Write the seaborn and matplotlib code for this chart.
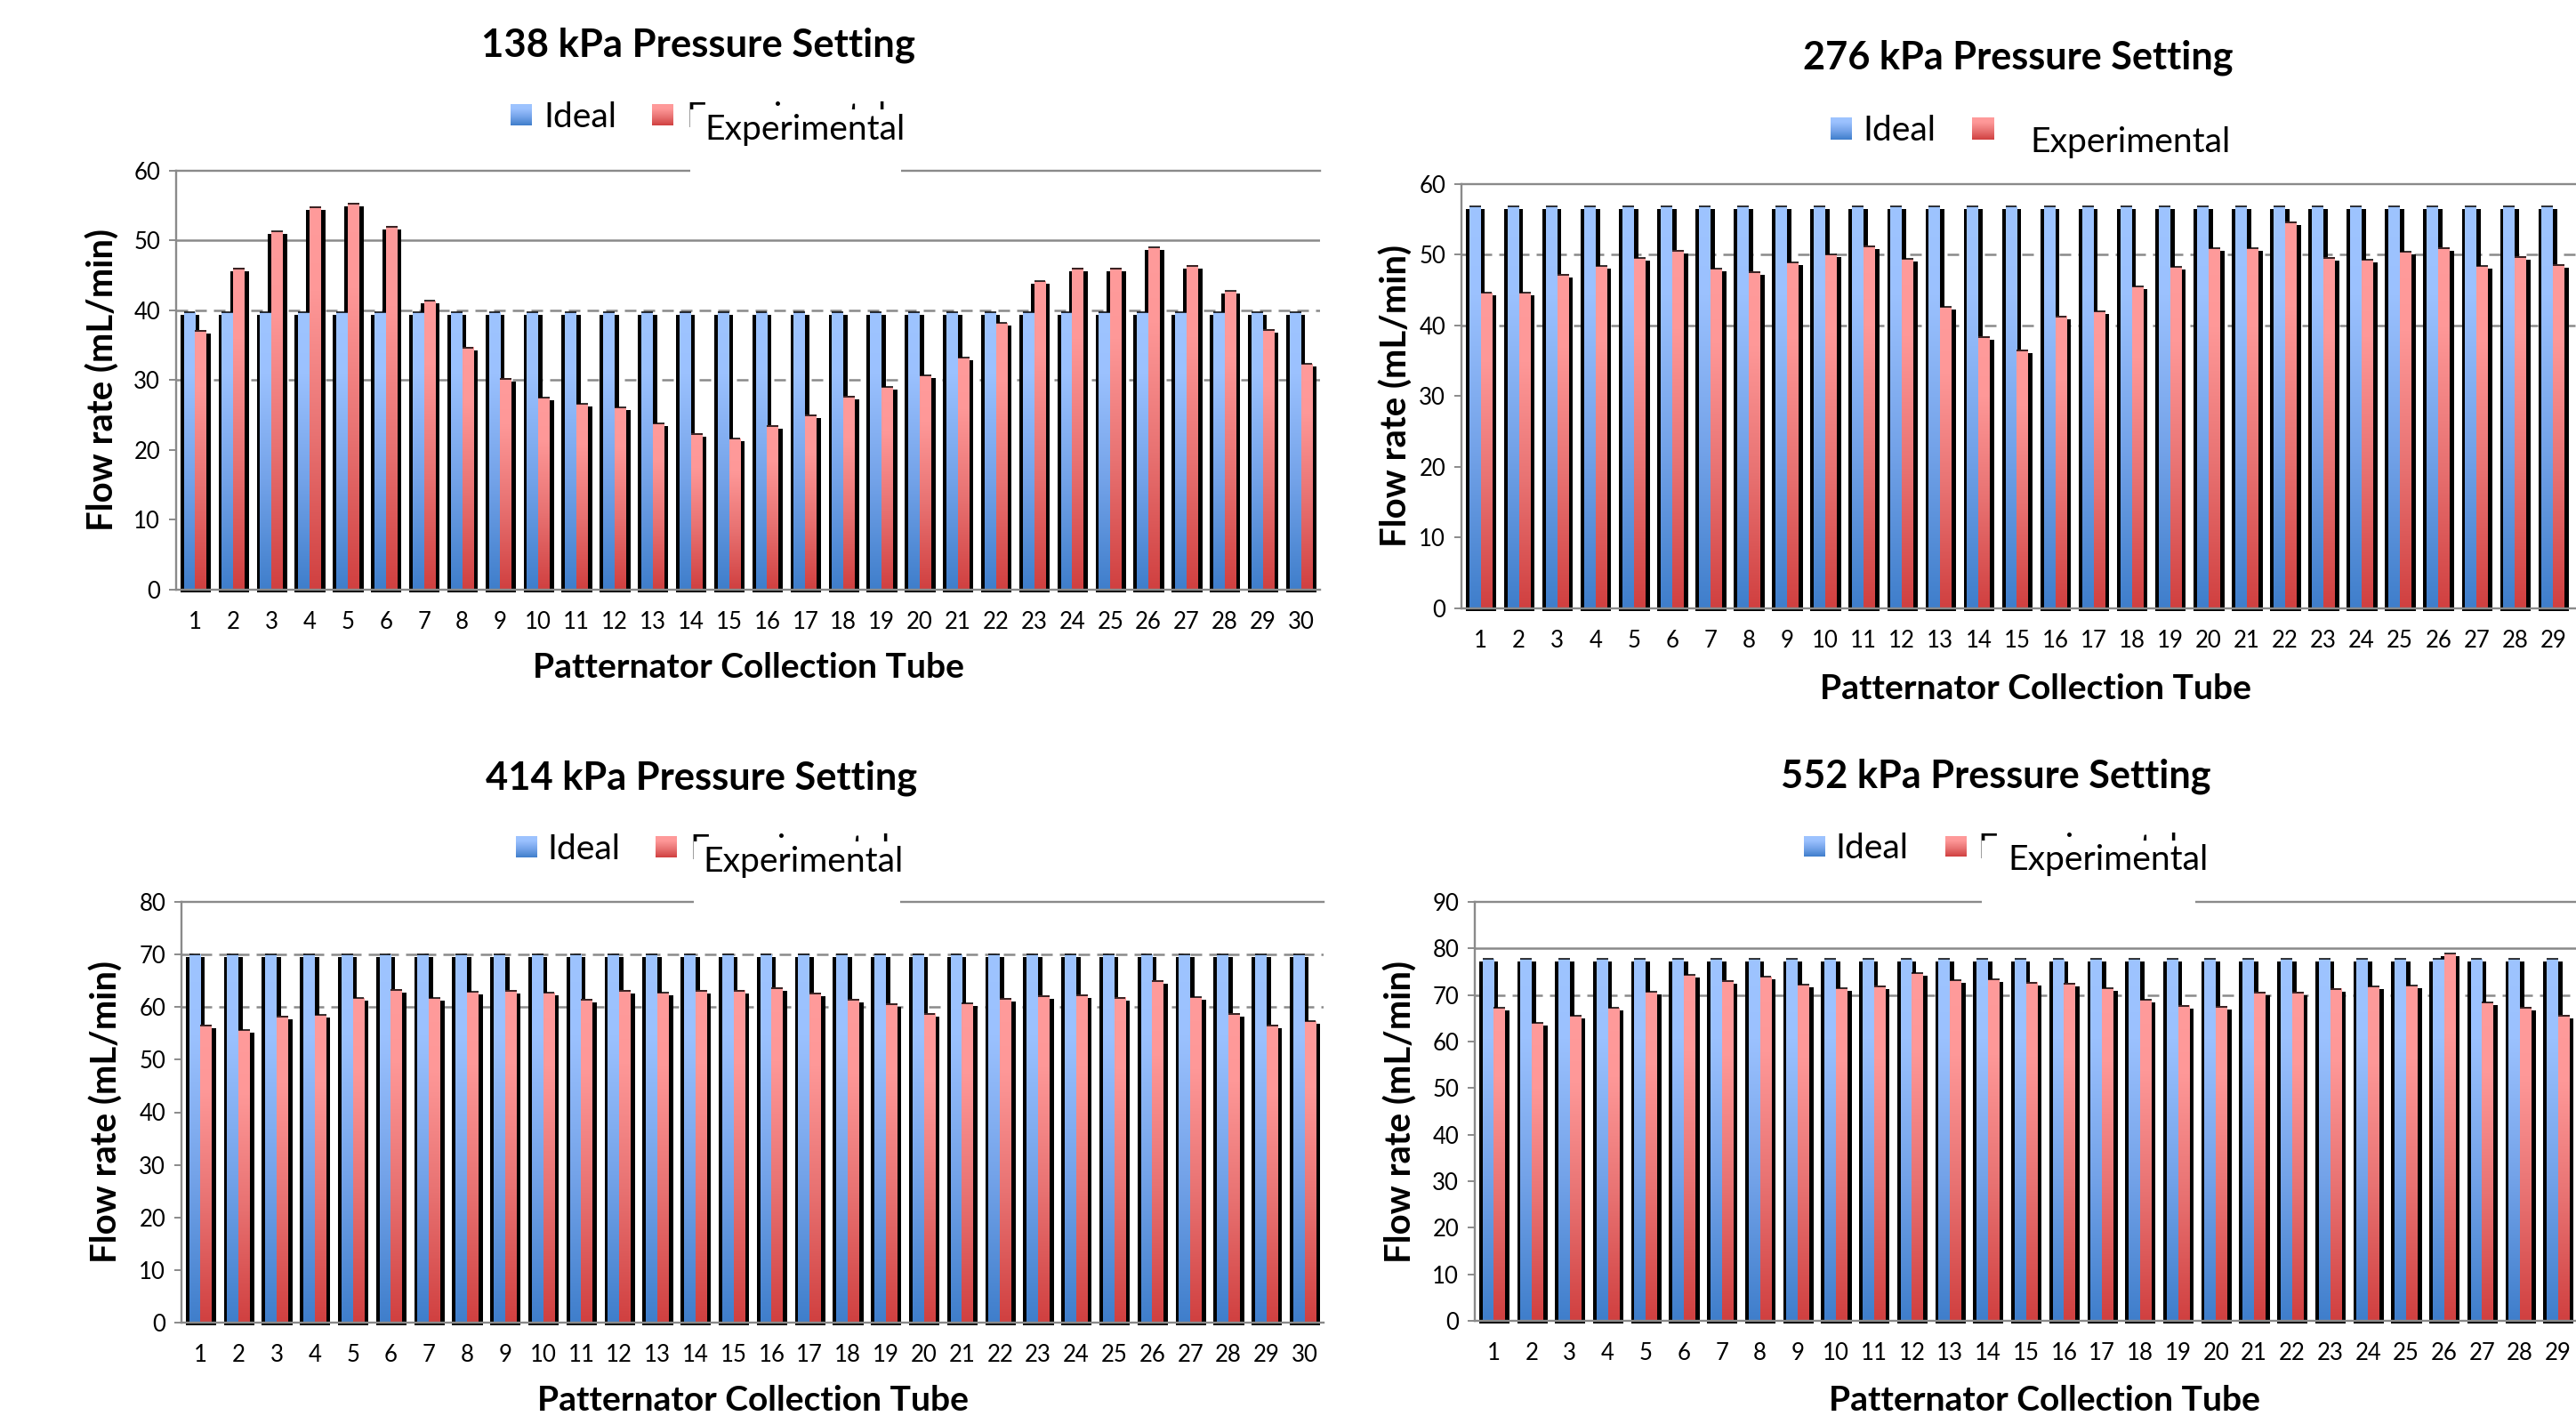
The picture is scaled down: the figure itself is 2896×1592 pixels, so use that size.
import numpy as np
import pandas as pd
import matplotlib
matplotlib.use("Agg")
import matplotlib.pyplot as plt
import seaborn as sns
from matplotlib.colors import LinearSegmentedColormap, to_rgb
from matplotlib.patches import Rectangle
from matplotlib.transforms import ScaledTranslation

# ---------------- data ----------------
tubes_30 = list(range(1, 31))
tubes_29 = list(range(1, 30))   # right-hand panels are cut at tube 29

ideal_138 = 39.7
exp_138 = [37.1, 46.0, 51.3, 54.8, 55.3, 52.0, 41.4, 34.7, 30.2, 27.5,
           26.6, 26.1, 23.8, 22.3, 21.6, 23.5, 25.0, 27.7, 29.0, 30.7,
           33.2, 38.2, 44.2, 46.0, 46.0, 49.0, 46.4, 42.8, 37.2, 32.3]

ideal_276 = 56.8
exp_276 = [44.6, 44.6, 47.2, 48.4, 49.5, 50.6, 48.0, 47.6, 48.9, 50.0,
           51.2, 49.4, 42.6, 38.4, 36.5, 41.3, 42.0, 45.5, 48.3, 50.9,
           50.9, 54.6, 49.6, 49.3, 50.4, 51.0, 48.4, 49.7, 48.6]

ideal_414 = 70.0
exp_414 = [56.5, 55.6, 58.2, 58.5, 61.7, 63.3, 61.7, 62.9, 63.1, 62.7,
           61.4, 63.1, 62.7, 63.1, 63.1, 63.6, 62.6, 61.4, 60.6, 58.7,
           60.7, 61.6, 62.1, 62.3, 61.8, 65.0, 61.9, 58.7, 56.5, 57.3]

ideal_552 = 77.7
exp_552 = [67.2, 64.0, 65.5, 67.2, 70.7, 74.3, 73.0, 73.9, 72.2, 71.4,
           71.9, 74.7, 73.1, 73.3, 72.7, 72.5, 71.4, 68.9, 67.7, 67.5,
           70.6, 70.6, 71.3, 71.8, 72.0, 78.9, 68.4, 67.3, 65.6]

titles = ["138 kPa Pressure Setting", "276 kPa Pressure Setting",
          "414 kPa Pressure Setting", "552 kPa Pressure Setting"]
series_names = ["Ideal", "Experimental"]
x_label = "Patternator Collection Tube"
y_label = "Flow rate (mL/min)"

# ---------------- style ----------------
sns.set_theme(style="white")
plt.rcParams["font.family"] = ["Lato", "DejaVu Sans"]

W, H, DPI = 2896, 1592, 100
GRAY = "#8a8a8a"
BLUE = "#4a86d4"
RED = "#d84a4a"
cmap_blue = LinearSegmentedColormap.from_list(
    "bl", [(0, "#3f7ecb"), (0.4, "#74a3e9"), (0.78, "#9bc1fe"), (1, "#9ec4ff")])
cmap_red = LinearSegmentedColormap.from_list(
    "rd", [(0, "#d04040"), (0.4, "#e87272"), (0.78, "#fe9898"), (1, "#ff9b9b")])
GRAD = np.linspace(0, 1, 256).reshape(-1, 1)

fig = plt.figure(figsize=(W / DPI, H / DPI), dpi=DPI)
fig.patch.set_facecolor("white")

panels = [
    dict(title=titles[0], tubes=tubes_30, ideal=ideal_138, exp=exp_138, ymax=60,
         box=(198, 192, 1286, 663), grid=[(50, "-"), (40, "--"), (30, "--")],
         title_c=(785, 48), title_w=488, xlab_y=748, ylab_x=116,
         blue_sq=(574, 117, 597, 141), red_sq=(733, 117, 757, 141),
         ideal_x=611, ideal_cy=129, frag_x=771, over_x=792, over_cy=143,
         wbox=(776, 123, 1013, 197)),
    dict(title=titles[1], tubes=tubes_29, ideal=ideal_276, exp=exp_276, ymax=60,
         box=(1643, 207, 1292, 684), grid=[(50, "--"), (40, "--")],
         title_c=(2269, 62), title_w=484, xlab_y=772, ylab_x=1570,
         blue_sq=(2058, 132, 2082, 157), red_sq=(2217, 132, 2242, 157),
         ideal_x=2094, ideal_cy=144, frag_x=None, over_x=2282, over_cy=157,
         wbox=None),
    dict(title=titles[2], tubes=tubes_30, ideal=ideal_414, exp=exp_414, ymax=80,
         box=(204, 1014, 1284, 1487), grid=[(70, "--"), (60, "--")],
         title_c=(789, 872), title_w=485, xlab_y=1572, ylab_x=120,
         blue_sq=(580, 940, 604, 964), red_sq=(737, 940, 761, 964),
         ideal_x=615, ideal_cy=952, frag_x=775, over_x=790, over_cy=966,
         wbox=(780, 946, 1012, 1019)),
    dict(title=titles[3], tubes=tubes_29, ideal=ideal_552, exp=exp_552, ymax=90,
         box=(1658, 1014, 1282, 1485), grid=[(80, "-"), (70, "--")],
         title_c=(2244, 870), title_w=484, xlab_y=1572, ylab_x=1575,
         blue_sq=(2028, 940, 2052, 963), red_sq=(2187, 940, 2211, 963),
         ideal_x=2063, ideal_cy=951, frag_x=2223, over_x=2257, over_cy=964,
         wbox=(2228, 945, 2468, 1019)),
]


def fx(px):
    return px / W


def fy(py):
    return 1 - py / H


def grad_square(rect, cmap):
    x0, y0, x1, y1 = rect
    a = fig.add_axes([fx(x0), fy(y1), (x1 - x0) / W, (y1 - y0) / H])
    a.imshow(GRAD, cmap=cmap, origin="lower", aspect="auto", extent=(0, 1, 0, 1))
    a.set_axis_off()


renderer = fig.canvas.get_renderer()


def fit(t, target, rotated=False):
    for _ in range(3):
        bb = t.get_window_extent(renderer)
        cur = bb.height if rotated else bb.width
        t.set_fontsize(t.get_fontsize() * target / cur)


CAP = 0.7165  # Lato cap height (em)


def baseline_y(cap_center_px, fontsize_pt):
    return cap_center_px + CAP * fontsize_pt * DPI / 72 / 2


dx_sh = 0.5 / DPI
dy_sh = -3.0 / DPI

for spec in panels:
    left, top, width, bottom = spec["box"]
    height = bottom - top
    ax = fig.add_axes([fx(left), fy(bottom), width / W, height / H])
    n = len(spec["tubes"])
    df = pd.DataFrame({
        "Tube": spec["tubes"] * 2,
        "Flow": [spec["ideal"]] * n + list(spec["exp"]),
        "Series": [series_names[0]] * n + [series_names[1]] * n,
    })
    sns.barplot(data=df, x="Tube", y="Flow", hue="Series", hue_order=series_names,
                palette={series_names[0]: BLUE, series_names[1]: RED},
                width=0.6, dodge=True, errorbar=None, saturation=1,
                legend=False, ax=ax)

    bars = list(ax.patches)
    sh_tr = ax.transData + ScaledTranslation(dx_sh, dy_sh, fig.dpi_scale_trans)
    for p in bars:
        x, w, h = p.get_x(), p.get_width(), p.get_height()
        is_blue = np.allclose(p.get_facecolor()[:3], to_rgb(BLUE), atol=0.03)
        cmap = cmap_blue if is_blue else cmap_red
        p.set_facecolor("none")
        p.set_edgecolor("none")
        sh = Rectangle((x - 0.1, 0), w + 0.2, h, facecolor="black", edgecolor="none",
                       transform=sh_tr, clip_on=False, zorder=1)
        ax.add_patch(sh)
        ax.imshow(GRAD, extent=(x, x + w, 0, h), origin="lower", cmap=cmap,
                  vmin=0, vmax=1, aspect="auto", interpolation="bilinear", zorder=2)
        ax.hlines(h, x, x + w, colors="black", linewidth=1.1, zorder=3)

    ax.set_xlim(-0.5, 29.5)
    ax.set_ylim(0, spec["ymax"])
    ax.set_yticks(np.arange(0, spec["ymax"] + 1, 10))
    for val, ls in spec["grid"]:
        if ls == "-":
            ax.axhline(val, color=GRAY, linewidth=1.8, zorder=0.5)
        else:
            ax.axhline(val, color=GRAY, linewidth=1.8, linestyle=(0, (5.2, 3.2)), zorder=0.5)

    for s in ["left", "bottom", "top"]:
        ax.spines[s].set_visible(True)
        ax.spines[s].set_color(GRAY)
        ax.spines[s].set_linewidth(1.7)
    ax.spines["right"].set_visible(False)
    ax.tick_params(axis="y", left=True, direction="out", length=5.8, width=1.4,
                   color=GRAY, pad=7, labelsize=18.5, labelcolor="black")
    ax.tick_params(axis="x", bottom=False, length=0, pad=17, labelsize=18.5,
                   labelcolor="black")
    ax.set_facecolor("white")

    # axis labels
    ax.set_xlabel(x_label, fontweight="bold", fontsize=27, color="black")
    ax.set_ylabel(y_label, fontweight="bold", fontsize=27, color="black")
    fit(ax.xaxis.label, 484)
    fit(ax.yaxis.label, 340, rotated=True)
    xl_fs = ax.xaxis.label.get_fontsize()
    ax.xaxis.label.set_va("baseline")
    ax.xaxis.set_label_coords(0.5, (bottom - baseline_y(spec["xlab_y"], xl_fs)) / height)
    ax.yaxis.label.set_va("center")
    ax.yaxis.label.set_ha("center")
    ax.yaxis.set_label_coords((spec["ylab_x"] - left) / width, 0.5)

    # title (explicit y disables automatic title placement)
    tcx, tcy = spec["title_c"]
    t = ax.set_title(spec["title"], fontweight="bold", fontsize=31, color="black",
                     pad=0, va="baseline", ha="center", x=0.5, y=1.2)
    fit(t, spec["title_w"])
    t.set_position(((tcx - left) / width, (bottom - baseline_y(tcy, t.get_fontsize())) / height))

    # legend-like header
    grad_square(spec["blue_sq"], cmap_blue)
    grad_square(spec["red_sq"], cmap_red)
    over = fig.text(fx(spec["over_x"]), 0.5, series_names[1], fontsize=27, color="black",
                    ha="left", va="baseline", zorder=7)
    fit(over, 225)
    lfs = over.get_fontsize()
    over.set_y(fy(baseline_y(spec["over_cy"], lfs)))
    fig.text(fx(spec["ideal_x"]), fy(baseline_y(spec["ideal_cy"], lfs)), series_names[0],
             fontsize=lfs, color="black", ha="left", va="baseline", zorder=4)
    if spec["frag_x"] is not None:
        fig.text(fx(spec["frag_x"]), fy(baseline_y(spec["ideal_cy"], lfs)), series_names[1],
                 fontsize=lfs, color="black", ha="left", va="baseline", zorder=4)
    if spec["wbox"] is not None:
        x0, y0, x1, y1 = spec["wbox"]
        fig.add_artist(Rectangle((fx(x0), fy(y1)), (x1 - x0) / W, (y1 - y0) / H,
                                 transform=fig.transFigure, facecolor="white",
                                 edgecolor="none", zorder=6))

fig.savefig("out.png", dpi=DPI, facecolor="white")
